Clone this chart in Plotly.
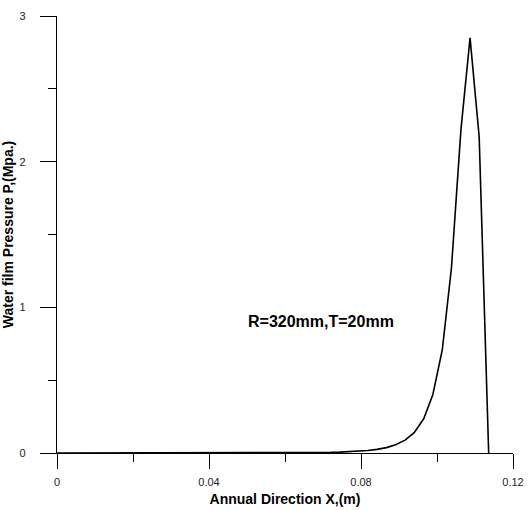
import plotly.graph_objects as go

x_vals = [0.0, 0.02, 0.04, 0.06, 0.0646, 0.0671, 0.0695, 0.0720, 0.0744, 0.0769, 0.0793, 0.0818,
          0.0842, 0.0867, 0.0891, 0.0916, 0.0940, 0.0965, 0.0989, 0.1014, 0.1038, 0.1063,
          0.1087, 0.1111, 0.1136]
p_vals = [0.0, 0.0002, 0.0006, 0.0015, 0.002, 0.0025, 0.003, 0.004, 0.006, 0.008, 0.012, 0.017,
          0.025, 0.037, 0.056, 0.088, 0.14, 0.235, 0.40, 0.71, 1.27, 2.22,
          2.85, 2.17, 0.0]

x_ticks = [0, 0.04, 0.08, 0.12]
x_ticktext = ["0", "0.04", "0.08", "0.12"]
y_ticks = [0, 1, 2, 3]
y_ticktext = ["0", "1", "2", "3"]

annotation_text = "R=320mm,T=20mm"
x_title = "Annual Direction X,(m)"
y_title = "Water film Pressure P,(Mpa.)"

pad = "\u00a0" * 4

fig = go.Figure()
fig.add_trace(go.Scatter(x=x_vals, y=p_vals, mode="lines",
                         line=dict(color="black", width=1.6), showlegend=False))

font_main = "Liberation Sans, Arial, sans-serif"

fig.update_layout(
    width=528, height=510,
    margin=dict(l=57, r=15, t=16, b=57),
    paper_bgcolor="white", plot_bgcolor="white",
    font=dict(family=font_main, color="black", size=11),
    xaxis=dict(range=[0, 0.12], tickvals=x_ticks, ticktext=x_ticktext, automargin=False,
               showgrid=False, zeroline=False, showline=True, linecolor="black", linewidth=1,
               ticks="outside", ticklen=15, tickwidth=1, tickcolor="black", ticklabelstandoff=4,
               minor=dict(dtick=0.02, ticks="outside", ticklen=8, tickwidth=1, tickcolor="black", showgrid=False),
               title=dict(text="<b>" + x_title + "</b>", font=dict(size=14), standoff=6),
               tickfont=dict(size=11, color="#222")),
    yaxis=dict(range=[0, 3], tickvals=y_ticks, ticktext=[t + pad for t in y_ticktext], automargin=False,
               showgrid=False, zeroline=False, showline=True, linecolor="black", linewidth=1,
               ticks="outside", ticklen=16, tickwidth=1, tickcolor="black",
               minor=dict(dtick=0.5, ticks="outside", ticklen=8, tickwidth=1, tickcolor="black", showgrid=False),
               title=dict(text="<b>" + y_title + "</b>", font=dict(size=14), standoff=2),
               tickfont=dict(size=11, color="#222")),
    annotations=[
        dict(x=0.0696, y=0.906, xref="x", yref="y", text="<b>" + annotation_text + "</b>",
             showarrow=False, font=dict(size=16, color="black")),
    ],
)

fig.write_html("out.html")
